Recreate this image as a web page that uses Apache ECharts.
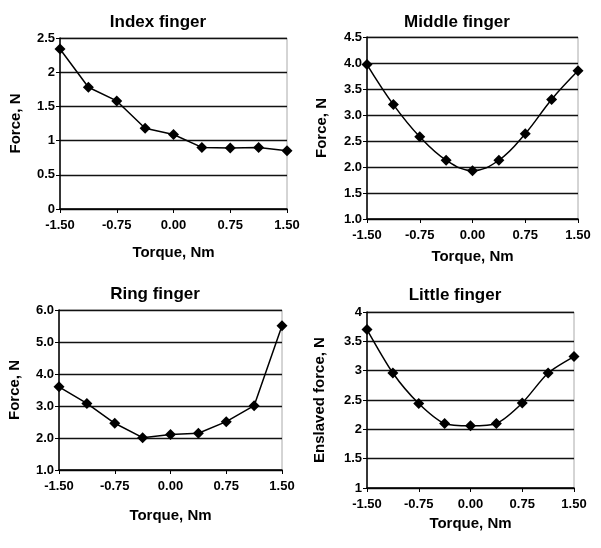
<!DOCTYPE html>
<html>
<head>
<meta charset="utf-8">
<script src="https://cdn.jsdelivr.net/npm/echarts@6/dist/echarts.min.js"></script>
<style>
  html, body { margin: 0; padding: 0; background: #fff; }
  #chart { width: 601px; height: 548px; }
</style>
</head>
<body>
<div id="chart"></div>
<script>
var torque = [-1.5, -1.125, -0.75, -0.375, 0, 0.375, 0.75, 1.125, 1.5]
var xTicks = ['-1.50', '-0.75', '0.00', '0.75', '1.50']

var indexForce = [2.34, 1.78, 1.58, 1.18, 1.09, 0.90, 0.89, 0.90, 0.85]
var middleForce = [3.97, 3.20, 2.58, 2.13, 1.93, 2.13, 2.64, 3.30, 3.85]
var ringForce = [3.60, 3.08, 2.46, 2.01, 2.11, 2.15, 2.51, 3.01, 5.51]
var littleForce = [3.70, 2.96, 2.44, 2.10, 2.06, 2.10, 2.45, 2.96, 3.24]

var titles = ['Index finger', 'Middle finger', 'Ring finger', 'Little finger']
var yNames = ['Force, N', 'Force, N', 'Force, N', 'Enslaved force, N']
var yMin = [0, 1, 1, 1]
var yMax = [2.5, 4.5, 6, 4]
var yStep = [0.5, 0.5, 1, 0.5]
var yDigits = [-1, 1, 1, -1]

var panels = [
    { left: 60, top: 38, width: 227, height: 171, tx: 153, ty: 9, yGap: 37, xGap: 36 },
    { left: 367, top: 37, width: 211, height: 182, tx: 452, ty: 9, yGap: 38, xGap: 30 },
    { left: 59, top: 310, width: 223, height: 160, tx: 150, ty: 281, yGap: 37, xGap: 38 },
    { left: 367, top: 312, width: 207, height: 176, tx: 450, ty: 282, yGap: 40, xGap: 28 }
]
var seriesData = [indexForce, middleForce, ringForce, littleForce]
var smoothLine = [false, 0.4, false, 0.25]

var font = '"Liberation Sans", Arial, sans-serif'

var option = {
    animation: false,
    backgroundColor: '#fff',
    title: [],
    grid: [],
    xAxis: [],
    yAxis: [],
    series: []
}

panels.forEach(function (p, i) {
    option.title.push({
        text: titles[i],
        left: p.tx,
        top: p.ty,
        textAlign: 'center',
        textStyle: { fontFamily: font, fontSize: 17, fontWeight: 'bold', color: '#000' }
    })
    option.grid.push({
        left: p.left, top: p.top, width: p.width, height: p.height,
        show: true, borderColor: '#aaa', borderWidth: 1
    })
    option.xAxis.push({
        gridIndex: i,
        type: 'value',
        min: -1.5, max: 1.5, interval: 0.75,
        name: 'Torque, Nm',
        nameLocation: 'middle',
        nameGap: p.xGap,
        nameTextStyle: { fontFamily: font, fontSize: 15, fontWeight: 'bold', color: '#000' },
        axisLine: { onZero: false, lineStyle: { color: '#000', width: 1.5 } },
        axisTick: { show: true, length: 4, lineStyle: { color: '#000' } },
        axisLabel: {
            fontFamily: font, fontSize: 13, fontWeight: 'bold', color: '#000', margin: 10,
            formatter: function (v) { return xTicks[Math.round((v + 1.5) / 0.75)] }
        },
        splitLine: { show: false }
    })
    option.yAxis.push({
        gridIndex: i,
        type: 'value',
        min: yMin[i], max: yMax[i], interval: yStep[i],
        name: yNames[i],
        nameLocation: 'middle',
        nameGap: p.yGap,
        nameTextStyle: { fontFamily: font, fontSize: 15, fontWeight: 'bold', color: '#000' },
        axisLine: { show: true, onZero: false, lineStyle: { color: '#000', width: 1.5 } },
        axisTick: { show: true, length: 4, lineStyle: { color: '#000' } },
        axisLabel: {
            fontFamily: font, fontSize: 13, fontWeight: 'bold', color: '#000', margin: 5,
            formatter: function (v) { return yDigits[i] > 0 ? v.toFixed(1) : String(v) }
        },
        splitLine: { show: true, lineStyle: { color: '#111', width: 1.3 } }
    })
    option.series.push({
        type: 'line',
        xAxisIndex: i,
        yAxisIndex: i,
        smooth: smoothLine[i],
        data: torque.map(function (t, k) { return [t, seriesData[i][k]] }),
        symbol: 'diamond',
        symbolSize: 11,
        itemStyle: { color: '#000' },
        lineStyle: { color: '#000', width: 1.5 }
    })
})

var chart = echarts.init(document.getElementById('chart'))
chart.setOption(option)
</script>
</body>
</html>
